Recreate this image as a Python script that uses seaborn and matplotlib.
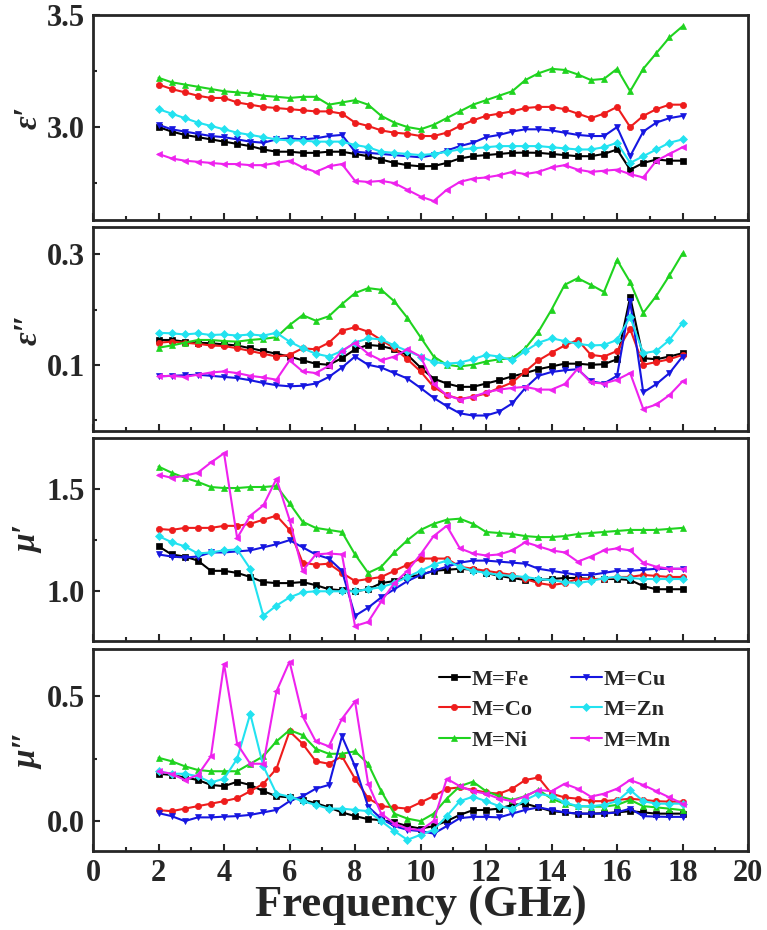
import numpy as np
import pandas as pd
import matplotlib
matplotlib.use("Agg")
import matplotlib.pyplot as plt
from matplotlib.ticker import FixedLocator, FormatStrFormatter
import seaborn as sns

# sampling grid (GHz)
freq = np.round(np.arange(2.0, 18.2, 0.4), 1)

metals = ['M=Fe', 'M=Co', 'M=Ni', 'M=Cu', 'M=Zn', 'M=Mn']
colors = ['#000000', '#ee1c1c', '#1fd31f', '#1616e0', '#22e2f0', '#ee22ee']
markers = ['s', 'o', '^', 'v', 'D', '<']

# epsilon'
eps1_fe = [3.00, 2.98, 2.965, 2.955, 2.945, 2.935, 2.925, 2.915, 2.90, 2.89, 2.89, 2.885, 2.885, 2.89,
           2.89, 2.88, 2.87, 2.855, 2.84, 2.83, 2.825, 2.826, 2.84, 2.86, 2.87, 2.875, 2.88, 2.885,
           2.886, 2.885, 2.88, 2.875, 2.87, 2.87, 2.88, 2.90, 2.81, 2.84, 2.855, 2.85, 2.85]
eps1_co = [3.19, 3.17, 3.155, 3.14, 3.13, 3.13, 3.11, 3.10, 3.09, 3.085, 3.08, 3.075, 3.07, 3.07,
           3.06, 3.02, 3.005, 2.985, 2.975, 2.97, 2.96, 2.96, 2.975, 3.005, 3.03, 3.05, 3.06, 3.07,
           3.085, 3.09, 3.09, 3.08, 3.06, 3.04, 3.06, 3.09, 3.00, 3.05, 3.08, 3.10, 3.10]
eps1_ni = [3.22, 3.20, 3.19, 3.18, 3.17, 3.16, 3.155, 3.15, 3.14, 3.135, 3.13, 3.135, 3.135, 3.10,
           3.11, 3.12, 3.10, 3.05, 3.02, 3.00, 2.99, 3.01, 3.04, 3.07, 3.10, 3.12, 3.14, 3.16,
           3.21, 3.24, 3.26, 3.255, 3.235, 3.21, 3.215, 3.26, 3.16, 3.26, 3.33, 3.40, 3.45]
eps1_cu = [3.01, 2.99, 2.98, 2.97, 2.96, 2.955, 2.945, 2.935, 2.93, 2.945, 2.95, 2.945, 2.95, 2.96,
           2.965, 2.89, 2.885, 2.88, 2.875, 2.87, 2.865, 2.875, 2.895, 2.915, 2.93, 2.955, 2.965, 2.98,
           2.99, 2.99, 2.985, 2.975, 2.965, 2.96, 2.96, 3.00, 2.87, 2.98, 3.02, 3.04, 3.05]
eps1_zn = [3.08, 3.06, 3.04, 3.02, 3.005, 2.99, 2.975, 2.965, 2.955, 2.945, 2.94, 2.94, 2.935, 2.935,
           2.935, 2.92, 2.91, 2.89, 2.885, 2.88, 2.875, 2.88, 2.89, 2.90, 2.905, 2.91, 2.915, 2.915,
           2.915, 2.915, 2.91, 2.905, 2.90, 2.90, 2.91, 2.93, 2.84, 2.87, 2.90, 2.93, 2.945]
eps1_mn = [2.88, 2.86, 2.85, 2.845, 2.84, 2.835, 2.835, 2.83, 2.83, 2.84, 2.85, 2.82, 2.80, 2.825,
           2.835, 2.76, 2.755, 2.76, 2.75, 2.72, 2.69, 2.67, 2.72, 2.755, 2.77, 2.775, 2.785, 2.80,
           2.79, 2.80, 2.82, 2.83, 2.81, 2.80, 2.805, 2.81, 2.79, 2.775, 2.85, 2.88, 2.91]

# epsilon''
eps2_fe = [0.145, 0.145, 0.142, 0.140, 0.139, 0.137, 0.135, 0.130, 0.125, 0.120, 0.115, 0.108, 0.102, 0.100,
           0.112, 0.128, 0.136, 0.134, 0.128, 0.118, 0.095, 0.075, 0.066, 0.060, 0.060, 0.066, 0.072, 0.079,
           0.085, 0.092, 0.097, 0.102, 0.102, 0.100, 0.101, 0.110, 0.223, 0.112, 0.110, 0.115, 0.121]
eps2_co = [0.140, 0.142, 0.140, 0.138, 0.135, 0.134, 0.130, 0.125, 0.120, 0.115, 0.118, 0.130, 0.128, 0.140,
           0.162, 0.168, 0.160, 0.145, 0.130, 0.110, 0.088, 0.060, 0.045, 0.038, 0.042, 0.048, 0.058, 0.068,
           0.088, 0.108, 0.122, 0.135, 0.145, 0.118, 0.115, 0.125, 0.165, 0.100, 0.105, 0.110, 0.118]
eps2_ni = [0.131, 0.135, 0.140, 0.145, 0.145, 0.143, 0.142, 0.145, 0.147, 0.150, 0.172, 0.190, 0.180, 0.188,
           0.210, 0.230, 0.239, 0.236, 0.215, 0.185, 0.150, 0.115, 0.100, 0.097, 0.100, 0.106, 0.110, 0.112,
           0.130, 0.160, 0.200, 0.245, 0.257, 0.245, 0.232, 0.290, 0.250, 0.194, 0.225, 0.262, 0.302]
eps2_cu = [0.079, 0.080, 0.081, 0.082, 0.080, 0.078, 0.076, 0.072, 0.067, 0.063, 0.061, 0.062, 0.066, 0.078,
           0.095, 0.115, 0.100, 0.095, 0.085, 0.075, 0.058, 0.040, 0.025, 0.012, 0.008, 0.008, 0.015, 0.030,
           0.058, 0.080, 0.087, 0.090, 0.092, 0.070, 0.066, 0.080, 0.215, 0.050, 0.065, 0.085, 0.115]
eps2_zn = [0.158, 0.157, 0.155, 0.157, 0.154, 0.155, 0.153, 0.155, 0.153, 0.158, 0.142, 0.130, 0.120, 0.115,
           0.125, 0.140, 0.148, 0.146, 0.135, 0.125, 0.115, 0.105, 0.102, 0.104, 0.110, 0.118, 0.115, 0.108,
           0.125, 0.140, 0.148, 0.143, 0.138, 0.135, 0.136, 0.145, 0.187, 0.121, 0.125, 0.145, 0.176]
eps2_mn = [0.079, 0.080, 0.078, 0.082, 0.086, 0.088, 0.085, 0.080, 0.077, 0.073, 0.108, 0.088, 0.085, 0.098,
           0.125, 0.140, 0.120, 0.108, 0.115, 0.128, 0.115, 0.065, 0.045, 0.037, 0.042, 0.050, 0.055, 0.058,
           0.060, 0.055, 0.055, 0.065, 0.093, 0.068, 0.066, 0.073, 0.085, 0.020, 0.028, 0.045, 0.070]

# mu'
mu1_fe = [1.22, 1.18, 1.17, 1.15, 1.10, 1.10, 1.09, 1.07, 1.045, 1.04, 1.04, 1.045, 1.03, 1.01,
          1.005, 1.00, 1.01, 1.04, 1.05, 1.07, 1.08, 1.10, 1.105, 1.11, 1.105, 1.09, 1.075, 1.065,
          1.055, 1.055, 1.06, 1.065, 1.065, 1.06, 1.06, 1.06, 1.055, 1.025, 1.01, 1.01, 1.01]
mu1_co = [1.305, 1.30, 1.31, 1.31, 1.31, 1.32, 1.32, 1.33, 1.35, 1.37, 1.30, 1.14, 1.13, 1.135,
          1.09, 1.05, 1.06, 1.07, 1.10, 1.13, 1.16, 1.16, 1.16, 1.12, 1.11, 1.10, 1.09, 1.08,
          1.06, 1.04, 1.03, 1.04, 1.06, 1.06, 1.06, 1.07, 1.07, 1.08, 1.075, 1.07, 1.07]
mu1_ni = [1.61, 1.58, 1.555, 1.535, 1.51, 1.505, 1.505, 1.51, 1.51, 1.515, 1.43, 1.34, 1.31, 1.30,
          1.29, 1.18, 1.09, 1.12, 1.19, 1.25, 1.30, 1.33, 1.35, 1.355, 1.33, 1.29, 1.285, 1.28,
          1.27, 1.265, 1.265, 1.27, 1.28, 1.285, 1.29, 1.295, 1.30, 1.30, 1.30, 1.305, 1.31]
mu1_cu = [1.18, 1.17, 1.165, 1.17, 1.19, 1.19, 1.195, 1.20, 1.215, 1.23, 1.25, 1.215, 1.18, 1.16,
          1.10, 0.88, 0.92, 0.97, 1.01, 1.05, 1.08, 1.10, 1.12, 1.14, 1.15, 1.15, 1.145, 1.14,
          1.135, 1.11, 1.10, 1.09, 1.08, 1.08, 1.09, 1.10, 1.10, 1.105, 1.11, 1.11, 1.11]
mu1_zn = [1.27, 1.24, 1.22, 1.185, 1.19, 1.20, 1.205, 1.11, 0.88, 0.93, 0.97, 0.995, 1.00, 1.00,
          1.00, 1.00, 1.01, 1.02, 1.04, 1.07, 1.10, 1.13, 1.15, 1.12, 1.10, 1.09, 1.08, 1.075,
          1.07, 1.06, 1.055, 1.045, 1.04, 1.05, 1.065, 1.07, 1.065, 1.06, 1.06, 1.06, 1.06]
mu1_mn = [1.57, 1.555, 1.565, 1.58, 1.63, 1.675, 1.26, 1.37, 1.42, 1.55, 1.35, 1.10, 1.18, 1.185,
          1.18, 0.83, 0.85, 0.95, 1.04, 1.10, 1.18, 1.27, 1.32, 1.21, 1.185, 1.175, 1.18, 1.20,
          1.24, 1.22, 1.20, 1.19, 1.145, 1.17, 1.20, 1.21, 1.20, 1.14, 1.12, 1.11, 1.11]

# mu''
mu2_fe = [0.19, 0.185, 0.175, 0.165, 0.145, 0.14, 0.158, 0.145, 0.12, 0.10, 0.095, 0.085, 0.072, 0.055,
          0.035, 0.02, 0.008, 0.004, -0.005, -0.02, -0.03, -0.02, 0.0, 0.025, 0.044, 0.045, 0.05, 0.065,
          0.07, 0.055, 0.04, 0.035, 0.03, 0.03, 0.032, 0.035, 0.04, 0.035, 0.03, 0.03, 0.03]
mu2_co = [0.044, 0.04, 0.05, 0.06, 0.07, 0.08, 0.092, 0.12, 0.15, 0.21, 0.36, 0.31, 0.24, 0.23,
          0.26, 0.17, 0.092, 0.06, 0.055, 0.05, 0.075, 0.10, 0.13, 0.135, 0.125, 0.115, 0.11, 0.13,
          0.165, 0.175, 0.11, 0.095, 0.09, 0.08, 0.08, 0.085, 0.09, 0.085, 0.08, 0.078, 0.078]
mu2_ni = [0.254, 0.24, 0.22, 0.205, 0.20, 0.20, 0.20, 0.23, 0.26, 0.32, 0.365, 0.345, 0.29, 0.27,
          0.27, 0.28, 0.23, 0.12, 0.03, 0.01, 0.0, 0.03, 0.09, 0.14, 0.158, 0.12, 0.10, 0.085,
          0.10, 0.125, 0.09, 0.07, 0.06, 0.058, 0.058, 0.065, 0.085, 0.06, 0.055, 0.05, 0.044]
mu2_cu = [0.032, 0.02, 0.0, 0.015, 0.015, 0.018, 0.02, 0.025, 0.035, 0.045, 0.08, 0.10, 0.13, 0.145,
          0.34, 0.22, 0.058, 0.01, -0.02, -0.035, -0.04, -0.05, -0.02, 0.012, 0.017, 0.017, 0.015, 0.03,
          0.045, 0.055, 0.045, 0.035, 0.03, 0.03, 0.03, 0.035, 0.05, 0.02, 0.018, 0.017, 0.017]
mu2_zn = [0.199, 0.19, 0.19, 0.18, 0.155, 0.17, 0.25, 0.43, 0.22, 0.11, 0.098, 0.08, 0.065, 0.05,
          0.05, 0.045, 0.04, 0.0, -0.04, -0.075, -0.055, -0.035, 0.02, 0.08, 0.098, 0.08, 0.06, 0.05,
          0.085, 0.11, 0.10, 0.075, 0.06, 0.06, 0.065, 0.08, 0.125, 0.08, 0.07, 0.07, 0.07]
mu2_mn = [0.199, 0.19, 0.165, 0.185, 0.26, 0.63, 0.31, 0.23, 0.23, 0.52, 0.64, 0.42, 0.32, 0.30,
          0.41, 0.48, 0.15, 0.03, -0.01, -0.03, -0.036, 0.0, 0.17, 0.14, 0.12, 0.11, 0.09, 0.08,
          0.10, 0.125, 0.12, 0.15, 0.13, 0.098, 0.11, 0.13, 0.165, 0.145, 0.12, 0.095, 0.07]

panels = [
    ([eps1_fe, eps1_co, eps1_ni, eps1_cu, eps1_zn, eps1_mn], "ε′", (2.585, 3.5), [3.0, 3.5], [2.75, 3.25]),
    ([eps2_fe, eps2_co, eps2_ni, eps2_cu, eps2_zn, eps2_mn], "ε″", (-0.02, 0.35), [0.1, 0.3], [0.0, 0.2]),
    ([mu1_fe, mu1_co, mu1_ni, mu1_cu, mu1_zn, mu1_mn], "μ′", (0.757, 1.75), [1.0, 1.5], [1.25]),
    ([mu2_fe, mu2_co, mu2_ni, mu2_cu, mu2_zn, mu2_mn], "μ″", (-0.12, 0.69), [0.0, 0.5], [0.25]),
]

# axes rectangles (figure fraction)
rects = [[0.1213, 0.7634, 0.854, 0.2204],
         [0.1213, 0.5366, 0.854, 0.2194],
         [0.1213, 0.3108, 0.854, 0.2183],
         [0.1213, 0.0849, 0.854, 0.2172]]

sns.set_style("ticks")
plt.rcParams['font.family'] = ['Liberation Serif', 'DejaVu Serif']
plt.rcParams['font.weight'] = 'bold'

fig = plt.figure(figsize=(7.67, 9.30), dpi=100)

for i, (series, ylab, ylim, major, minor) in enumerate(panels):
    ax = fig.add_axes(rects[i])
    for name, vals, c, m in zip(metals, series, colors, markers):
        df = pd.DataFrame({'f': freq, 'v': vals})
        sns.lineplot(data=df, x='f', y='v', ax=ax, color=c, marker=m,
                     markersize=4.5, markeredgecolor=c, markeredgewidth=0.5,
                     linewidth=1.5, label=name, legend=False)
    ax.set_xlim(0, 20)
    ax.set_ylim(*ylim)
    ax.set_xticks(np.arange(0, 21, 2))
    ax.xaxis.set_minor_locator(FixedLocator(np.arange(1, 20, 2)))
    ax.yaxis.set_major_locator(FixedLocator(major))
    ax.yaxis.set_minor_locator(FixedLocator(minor))
    ax.yaxis.set_major_formatter(FormatStrFormatter('%.1f'))
    ax.tick_params(which='both', direction='in', width=1.5)
    ax.tick_params(which='major', length=5, labelsize=22, pad=6)
    ax.tick_params(which='minor', length=3)
    for s in ax.spines.values():
        s.set_linewidth(2)
    ax.set_ylabel(ylab, fontsize=24, fontweight='bold', style='italic')
    ax.yaxis.set_label_coords(-0.076, 0.5)
    if i < 3:
        ax.tick_params(labelbottom=False)
        ax.set_xlabel('')
    else:
        ax.set_xlabel('Frequency (GHz)', fontsize=32, fontweight='bold', labelpad=-2)
        ax.legend(loc='upper left', bbox_to_anchor=(0.497, 1.0), ncol=2, frameon=False,
                  prop={'size': 16, 'weight': 'bold'}, handlelength=1.4,
                  handletextpad=0.1, columnspacing=1.7, labelspacing=0.45)

fig.savefig('out.png', dpi=100)
